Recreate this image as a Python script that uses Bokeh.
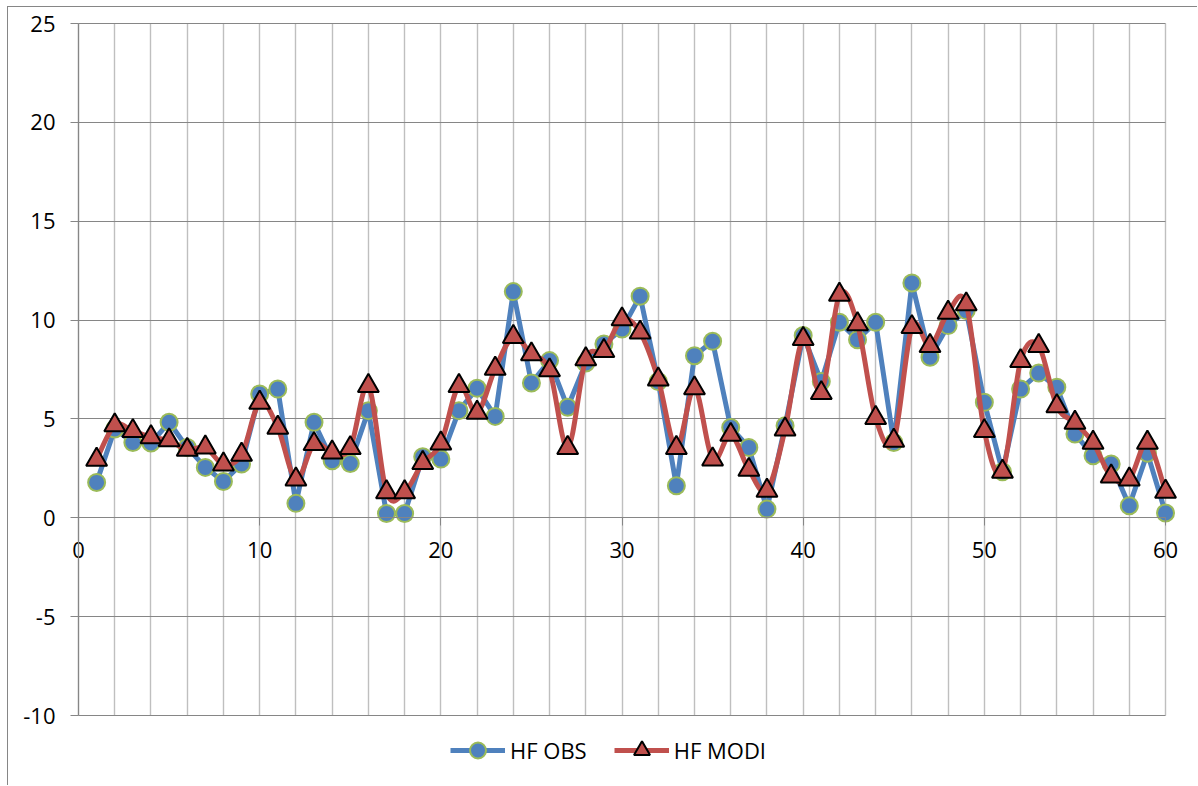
import numpy as np
from bokeh.plotting import figure
from bokeh.models import (Range1d, SingleIntervalTicker, FixedTicker, Legend, LegendItem,
                          ColumnDataSource, Grid)
from bokeh.embed import file_html
from bokeh.resources import INLINE

# ---- data ----
day = list(range(1, 61))
hf_obs = [1.79, 4.49, 3.81, 3.78, 4.83, 3.56, 2.55, 1.84, 2.72, 6.26,
          6.51, 0.73, 4.83, 2.89, 2.75, 5.42, 0.22, 0.22, 3.09, 2.97,
          5.42, 6.55, 5.13, 11.44, 6.82, 7.95, 5.59, 7.83, 8.79, 9.55,
          11.21, 6.89, 1.62, 8.20, 8.93, 4.57, 3.56, 0.44, 4.66, 9.22,
          6.89, 9.89, 9.01, 9.89, 3.81, 11.88, 8.12, 9.72, 10.48, 5.84,
          2.33, 6.51, 7.32, 6.60, 4.24, 3.14, 2.72, 0.61, 3.27, 0.24]
hf_modi = [2.94, 4.68, 4.39, 4.08, 3.92, 3.44, 3.56, 2.70, 3.19, 5.82,
           4.56, 1.94, 3.73, 3.31, 3.53, 6.67, 1.30, 1.30, 2.78, 3.76,
           6.67, 5.32, 7.54, 9.15, 8.27, 7.46, 3.54, 8.02, 8.44, 10.04,
           9.37, 7.00, 3.54, 6.55, 2.95, 4.20, 2.43, 1.37, 4.47, 9.05,
           6.31, 11.29, 9.79, 5.05, 3.90, 9.65, 8.69, 10.38, 10.80, 4.39,
           2.33, 7.93, 8.69, 5.65, 4.81, 3.80, 2.09, 1.94, 3.80, 1.32]
x_ticks = [0, 10, 20, 30, 40, 50, 60]
y_ticks = [-10, -5, 0, 5, 10, 15, 20, 25]
x_bounds = (0, 60)
y_bounds = (-10, 25)
series_names = ["HF OBS", "HF MODI"]

FONT = "Open Sans"
BLUE = "#4F81BD"
RED = "#C0504D"
GREEN = "#9BBB59"
AXIS = "#868686"
GRID_V = "#BFBFBF"

# frame covers the whole canvas; axes are drawn at fixed data locations inside it
p = figure(width=1190, height=779, output_backend="svg", toolbar_location=None,
           x_range=Range1d(-3.864, 61.82), y_range=Range1d(-13.59, 25.81),
           min_border=0, background_fill_color="white", border_fill_color="white")
p.outline_line_color = None
p.title.visible = False
p.styles = {"margin-left": "7px", "margin-top": "6px",
            "border-left": "1px solid #868686", "border-top": "1px solid #868686"}

# grids
has_cross = "cross_bounds" in Grid.properties()
p.xgrid.ticker = SingleIntervalTicker(interval=2)
p.xgrid.grid_line_color = GRID_V
p.xgrid.grid_line_width = 1.4
p.xgrid.bounds = x_bounds
p.ygrid.ticker = FixedTicker(ticks=y_ticks)
p.ygrid.grid_line_color = AXIS
p.ygrid.grid_line_width = 1.2
p.ygrid.bounds = y_bounds
if has_cross:
    p.xgrid.cross_bounds = y_bounds
    p.ygrid.cross_bounds = x_bounds
else:
    p.xgrid.visible = False
    p.ygrid.visible = False
    gx = np.arange(x_bounds[0], x_bounds[1] + 1, 2)
    p.segment(x0=gx, y0=y_bounds[0], x1=gx, y1=y_bounds[1], line_color=GRID_V, line_width=1.4)
    gy = np.array(y_ticks)
    p.segment(x0=x_bounds[0], y0=gy, x1=x_bounds[1], y1=gy, line_color=AXIS, line_width=1.2)

# x axis placed at y = 0
xa = p.xaxis[0]
xa.ticker = FixedTicker(ticks=x_ticks)
xa.fixed_location = 0
xa.bounds = x_bounds
xa.axis_line_color = AXIS
xa.axis_line_width = 1.2
xa.major_tick_line_color = AXIS
xa.major_tick_out = 8
xa.major_tick_in = 0
xa.minor_tick_line_color = None
xa.major_label_text_font = FONT
xa.major_label_text_font_size = "22px"
xa.major_label_text_color = "black"
xa.major_label_standoff = 16

# y axis placed at x = 0
ya = p.yaxis[0]
ya.ticker = FixedTicker(ticks=y_ticks)
ya.fixed_location = 0
ya.bounds = y_bounds
ya.axis_line_color = AXIS
ya.axis_line_width = 1.2
ya.major_tick_line_color = AXIS
ya.major_tick_out = 8
ya.major_tick_in = 0
ya.minor_tick_line_color = None
ya.major_label_text_font = FONT
ya.major_label_text_font_size = "22px"
ya.major_label_text_color = "black"
ya.major_label_standoff = 15
ya.major_label_overrides = {t: str(t) for t in y_ticks}

# observed series: straight segments
r_obs_line = p.line(day, hf_obs, line_color=BLUE, line_width=5)
r_obs_pts = p.scatter(day, hf_obs, marker="circle", size=17, fill_color=BLUE,
                      line_color=GREEN, line_width=2)

# modelled series: smoothed (Catmull-Rom as cubic Bezier)
xs = np.array(day, dtype=float)
ys = np.array(hf_modi, dtype=float)
n = len(xs)
i = np.arange(n - 1)
im1 = np.clip(i - 1, 0, n - 1)
ip2 = np.clip(i + 2, 0, n - 1)
bez = ColumnDataSource(dict(
    x0=xs[i], y0=ys[i], x1=xs[i + 1], y1=ys[i + 1],
    cx0=xs[i] + (xs[i + 1] - xs[im1]) / 6, cy0=ys[i] + (ys[i + 1] - ys[im1]) / 6,
    cx1=xs[i + 1] - (xs[ip2] - xs[i]) / 6, cy1=ys[i + 1] - (ys[ip2] - ys[i]) / 6))
p.bezier(x0="x0", y0="y0", x1="x1", y1="y1", cx0="cx0", cy0="cy0", cx1="cx1", cy1="cy1",
         source=bez, line_color=RED, line_width=5)
# legend stand-in for the smoothed line (a single undefined point draws nothing on the plot)
r_modi_leg = p.line(x=[float("nan")], y=[float("nan")], line_color=RED, line_width=5)
r_modi_pts = p.scatter(day, hf_modi, marker="triangle", size=21, fill_color=RED,
                       line_color="black", line_width=2)

legend = Legend(items=[LegendItem(label=series_names[0], renderers=[r_obs_line, r_obs_pts]),
                       LegendItem(label=series_names[1], renderers=[r_modi_leg, r_modi_pts])],
                orientation="horizontal", location=(442, 16),
                glyph_width=55, glyph_height=40, label_standoff=5, spacing=27,
                padding=0, margin=0, border_line_color=None, background_fill_alpha=0,
                label_text_font=FONT, label_text_font_size="22px", label_text_color="black")
p.add_layout(legend, "center")

open("out.html", "w").write(file_html(p, INLINE))
